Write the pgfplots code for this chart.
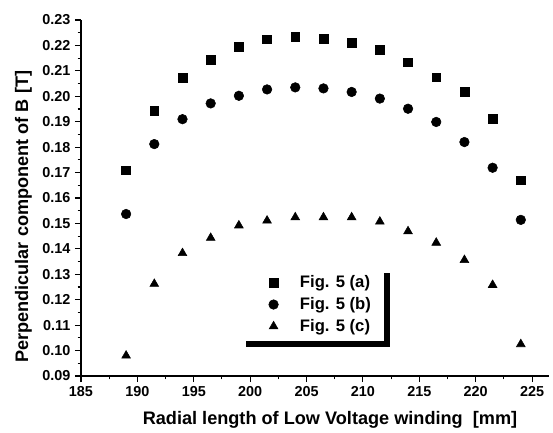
\documentclass[border=0pt]{standalone}
\usepackage{fontspec}
\setmainfont{Liberation Sans}
\usepackage{pgfplots}
\pgfplotsset{compat=1.18}
\usetikzlibrary{calc,shadows}

% values, x in mm, B in T
\pgfplotstableread{
x      a      b      c
189.0  0.1709 0.1537 0.0980
191.5  0.1943 0.1812 0.1262
194.0  0.2072 0.1910 0.1383
196.5  0.2144 0.1972 0.1443
199.0  0.2195 0.2002 0.1492
201.5  0.2224 0.2027 0.1511
204.0  0.2234 0.2035 0.1524
206.5  0.2226 0.2031 0.1524
209.0  0.2211 0.2017 0.1524
211.5  0.2182 0.1991 0.1507
214.0  0.2134 0.1951 0.1469
216.5  0.2075 0.1899 0.1424
219.0  0.2018 0.1820 0.1356
221.5  0.1911 0.1719 0.1258
224.0  0.1670 0.1514 0.1025
}\fieldtable

\begin{document}
\begin{tikzpicture}
\begin{axis}[
  name=ax, at={(0,0)}, anchor=south west,
  scale only axis, width=351pt, height=267pt,
  xmin=185, xmax=226.5, ymin=0.09, ymax=0.23,
  axis x line*=bottom, axis y line*=left,
  axis line style={line width=1.2pt, -},
  xtick={185,190,195,200,205,210,215,220,225},
  ytick={0.09,0.10,0.11,0.12,0.13,0.14,0.15,0.16,0.17,0.18,0.19,0.20,0.21,0.22,0.23},
  minor tick num=1,
  tick align=outside,
  major tick length=4.5pt, minor tick length=2.5pt,
  every tick/.style={black, line width=0.8pt},
  /pgf/number format/assume math mode=true,
  ticklabel style={font=\bfseries\fontsize{10.8}{12}\selectfont},
  yticklabel style={/pgf/number format/fixed, /pgf/number format/fixed zerofill,
    /pgf/number format/precision=2},
  scaled y ticks=false,
  xlabel={Radial length of Low Voltage winding\ \ [mm]},
  ylabel={Perpendicular component of B [T]},
  label style={font=\bfseries\fontsize{13.6}{15}\selectfont},
  xlabel style={at={(axis description cs:0.532,-0.135)}, anchor=base},
  ylabel style={at={(axis description cs:-0.113,0.447)}, anchor=base, rotate=0},
  legend cell align=left,
  legend image code/.code={%
    \path (0pt,0pt) (34.3pt,0pt);
    \draw[#1] plot coordinates {(16.7pt,0pt)};},
  legend style={at={(0.340,0.305)}, anchor=north west, draw=none, fill=white,
    font=\bfseries\fontsize{12.5}{14}\selectfont, row sep=1.8pt,
    inner xsep=8pt, inner ysep=4pt,
    /tikz/every odd column/.append style={column sep=0pt},
    drop shadow={shadow xshift=4pt, shadow yshift=-4pt, fill=black, opacity=1}},
]
\addplot[only marks, mark=square*, mark size=3.3pt, black] table[x=x, y=a] {\fieldtable};
\addplot[only marks, mark=*, mark size=3.6pt, black] table[x=x, y=b] {\fieldtable};
\addplot[only marks, mark=triangle*, mark size=3.8pt, black] table[x=x, y=c] {\fieldtable};
\legend{Fig. 5 (a), Fig. 5 (b), Fig. 5 (c)}
\end{axis}
\pgfresetboundingbox
\path[use as bounding box] ($(ax.south west)+(-60.75pt,-42pt)$) rectangle ($(ax.south west)+(354pt,282pt)$);
\end{tikzpicture}
\end{document}
